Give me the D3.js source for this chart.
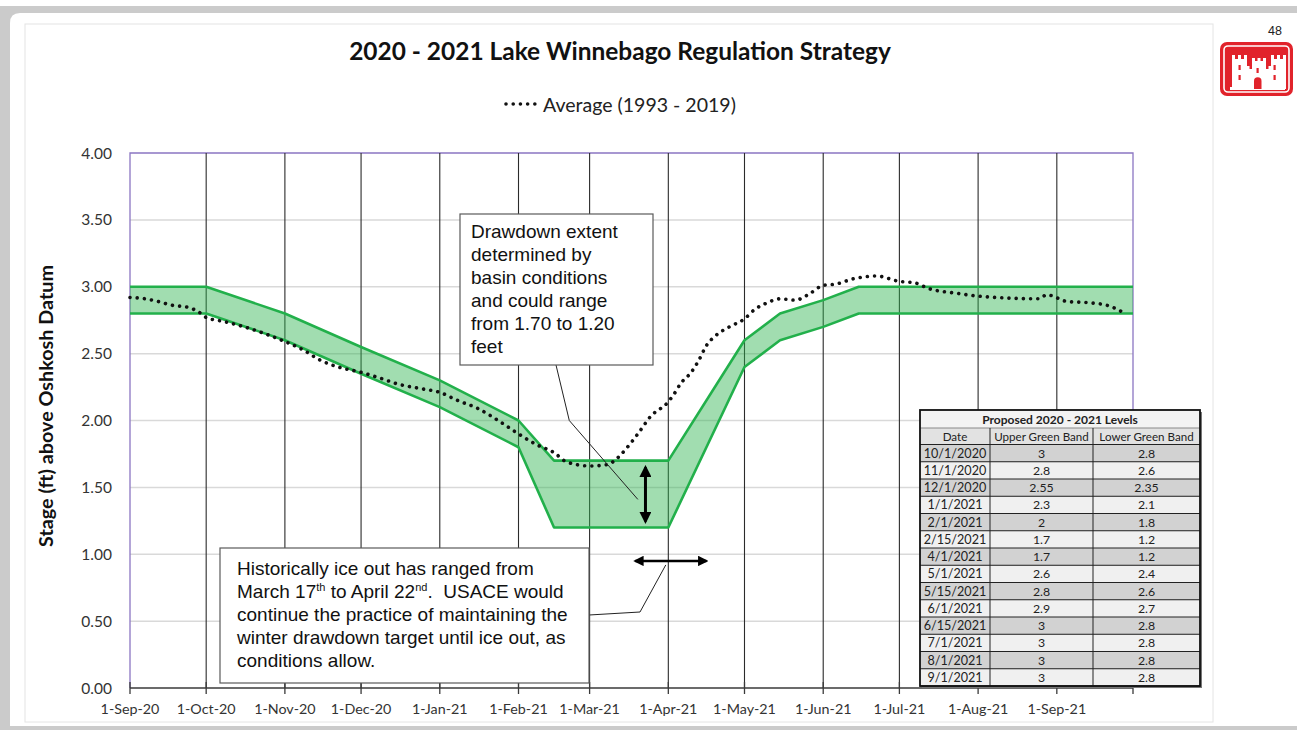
<!DOCTYPE html>
<html><head><meta charset="utf-8">
<script src="https://cdn.jsdelivr.net/npm/d3@7"></script>
<style>body{margin:0;background:#fff;overflow:hidden} svg{display:block}</style>
</head><body>
<svg id="c" width="1297" height="730"></svg>
<script>
// ---------------- DATA ----------------
const bandDates = ["2020-09-01","2020-10-01","2020-11-01","2020-12-01","2021-01-01","2021-02-01","2021-02-15","2021-04-01","2021-05-01","2021-05-15","2021-06-01","2021-06-15","2021-07-01","2021-08-01","2021-09-01","2021-10-01"];
const upperBand = [3, 3, 2.8, 2.55, 2.3, 2, 1.7, 1.7, 2.6, 2.8, 2.9, 3, 3, 3, 3, 3];
const lowerBand = [2.8, 2.8, 2.6, 2.35, 2.1, 1.8, 1.2, 1.2, 2.4, 2.6, 2.7, 2.8, 2.8, 2.8, 2.8, 2.8];

const avgDates = ["2020-09-01","2020-09-07","2020-09-12","2020-09-18","2020-09-23","2020-09-29","2020-10-01","2020-10-08","2020-10-16","2020-10-24","2020-11-01","2020-11-08","2020-11-15","2020-11-22","2020-12-01","2020-12-08","2020-12-16","2020-12-24","2021-01-01","2021-01-08","2021-01-16","2021-01-24","2021-02-01","2021-02-08","2021-02-15","2021-02-20","2021-03-01","2021-03-08","2021-03-12","2021-03-15","2021-03-20","2021-03-25","2021-04-01","2021-04-03","2021-04-06","2021-04-10","2021-04-13","2021-04-16","2021-04-20","2021-04-25","2021-05-01","2021-05-05","2021-05-10","2021-05-15","2021-05-21","2021-05-26","2021-06-01","2021-06-06","2021-06-13","2021-06-22","2021-07-01","2021-07-07","2021-07-12","2021-07-24","2021-08-01","2021-08-25","2021-08-28","2021-09-05","2021-09-14","2021-09-21","2021-09-27"];
const avgValues = [2.92,2.91,2.89,2.86,2.85,2.80,2.77,2.74,2.70,2.65,2.59,2.53,2.45,2.40,2.36,2.32,2.27,2.24,2.21,2.15,2.09,2.00,1.90,1.82,1.76,1.69,1.66,1.67,1.72,1.78,1.90,2.03,2.14,2.19,2.28,2.36,2.45,2.56,2.64,2.70,2.76,2.83,2.88,2.91,2.90,2.94,3.01,3.02,3.06,3.08,3.04,3.03,2.99,2.95,2.93,2.91,2.94,2.89,2.88,2.86,2.81];

const xTickDates = ["2020-09-01","2020-10-01","2020-11-01","2020-12-01","2021-01-01","2021-02-01","2021-03-01","2021-04-01","2021-05-01","2021-06-01","2021-07-01","2021-08-01","2021-09-01"];
const xDomain = ["2020-09-01","2021-10-01"];
const yTicks = [0, 0.5, 1, 1.5, 2, 2.5, 3, 3.5, 4];

const titleText = "2020 - 2021 Lake Winnebago Regulation Strategy";
const legendText = "Average (1993 - 2019)";
const yTitle = "Stage (ft) above Oshkosh Datum";
const tableTitle = "Proposed 2020 - 2021 Levels";
const tableHeaders = ["Date", "Upper Green Band", "Lower Green Band"];

// ---------------- SETUP ----------------
const parse = d3.utcParse("%Y-%m-%d");
const svg = d3.select("#c");
const W = 1297, H = 730;
const plot = {l:130, r:1133, t:153, b:688};
const x = d3.scaleUtc().domain(xDomain.map(parse)).range([plot.l, plot.r]);
const y = d3.scaleLinear().domain([0,4]).range([plot.b, plot.t]);
const cal = "Lato, 'Open Sans', sans-serif";
const arial = "'Liberation Sans', Arial, sans-serif";

function fit(sel, target){
  const w = sel.node().getComputedTextLength();
  const fs = parseFloat(sel.attr("font-size"));
  sel.attr("font-size", (fs*target/w).toFixed(2));
  return sel;
}

// page frame
svg.append("rect").attr("width",W).attr("height",H).attr("fill","#cbcbcb");
svg.append("rect").attr("width",W).attr("height",6).attr("fill","#ffffff");
svg.append("path").attr("fill","#ffffff")
  .attr("d", `M10,23 Q10,13 20,13 H${W} V726 H10 Z`);
svg.append("rect").attr("x",25).attr("y",24).attr("width",1188).attr("height",698)
  .attr("fill","#ffffff").attr("stroke","#e4e4e4").attr("stroke-width",1);

// slide number and logo
svg.append("text").attr("x",1282).attr("y",35).attr("text-anchor","end")
  .attr("font-family",arial).attr("font-size",12.5).attr("fill","#222").text("48");
const logo = svg.append("g");
logo.append("rect").attr("x",1220).attr("y",42).attr("width",73).attr("height",54).attr("rx",7).attr("fill","#e1232b");
logo.append("rect").attr("x",1224).attr("y",46).attr("width",65).attr("height",46).attr("rx",4)
  .attr("fill","none").attr("stroke","#fff").attr("stroke-width",1.6);
logo.append("path").attr("fill","#fff").attr("d",
  "M1232,89 V55 h3 v4 h3 v-4 h3 v4 h3 v-4 h3 V66 h2.5 v3 h2.5 V58 h3 v3 h2.5 v-3 h3 v3 h2.5 v-3 h3 V69 h2.5 v-3 h2.5 V55 h3 v4 h3 v-4 h3 v4 h3 v-4 h3 V89 Z");
logo.append("rect").attr("x",1230).attr("y",87).attr("width",55).attr("height",3).attr("fill","#fff");
logo.append("path").attr("fill","#e1232b").attr("d","M1254,89 V81 a3.75,3.75 0 0 1 7.5,0 V89 Z");
[[1238.5,65],[1238.5,75],[1273.5,65],[1273.5,75],[1256.5,68]].forEach(p=>{
  logo.append("rect").attr("x",p[0]).attr("y",p[1]).attr("width",2.2).attr("height",5).attr("fill","#e1232b");
});

// title
const tt = svg.append("text").attr("x",620).attr("y",60).attr("text-anchor","middle")
  .attr("font-family",cal).attr("font-weight","bold").attr("font-size",22).attr("fill","#111").text(titleText);
fit(tt, 542);

// legend
svg.append("line").attr("x1",506).attr("x2",538).attr("y1",104).attr("y2",104)
  .attr("stroke","#111").attr("stroke-width",3.6).attr("stroke-linecap","round").attr("stroke-dasharray","0.01 7.2");
const lt = svg.append("text").attr("x",543).attr("y",112)
  .attr("font-family",cal).attr("font-size",18).attr("fill","#222").text(legendText);
fit(lt, 193);

// y gridlines
svg.append("g").selectAll("line").data(yTicks.filter(v=>v>0 && v<4)).join("line")
  .attr("x1",plot.l).attr("x2",plot.r).attr("y1",d=>y(d)).attr("y2",d=>y(d))
  .attr("stroke","#d9d9d9").attr("stroke-width",1.5);

// y tick labels
svg.append("g").selectAll("text").data(yTicks).join("text")
  .attr("x",112).attr("y",d=>y(d)+5.5).attr("text-anchor","end")
  .attr("font-family",cal).attr("font-size",15.5).attr("fill","#333")
  .text(d=>d3.format(".2f")(d));

// y title
const yt = svg.append("text").attr("transform","translate(53,406) rotate(-90)").attr("text-anchor","middle")
  .attr("font-family",cal).attr("font-weight","bold").attr("font-size",17).attr("fill","#111").text(yTitle);
fit(yt, 282);

// plot border (purple)
svg.append("path").attr("fill","none").attr("stroke","#8b76c2").attr("stroke-width",1.3)
  .attr("d",`M${plot.l},${plot.b} V${plot.t} H${plot.r} V${plot.b}`);

// vertical month gridlines
const vDates = xTickDates.slice(1).map(parse);
svg.append("g").selectAll("line").data(vDates).join("line")
  .attr("x1",d=>x(d)).attr("x2",d=>x(d)).attr("y1",plot.t).attr("y2",plot.b)
  .attr("stroke","#2b2b2b").attr("stroke-width",1.1);

// band
const bandData = bandDates.map((d,i)=>({date:parse(d), hi:upperBand[i], lo:lowerBand[i]}));
svg.append("path").datum(bandData)
  .attr("d", d3.area().x(d=>x(d.date)).y0(d=>y(d.lo)).y1(d=>y(d.hi)))
  .attr("fill","#2eb34f").attr("fill-opacity",0.45);
["hi","lo"].forEach(k=>{
  svg.append("path").datum(bandData)
    .attr("d", d3.line().x(d=>x(d.date)).y(d=>y(d[k])))
    .attr("fill","none").attr("stroke","#22b04b").attr("stroke-width",2.6).attr("stroke-linejoin","round");
});

// average dotted line
const avgData = avgDates.map((d,i)=>({date:parse(d), v:avgValues[i]}));
svg.append("path").datum(avgData)
  .attr("d", d3.line().x(d=>x(d.date)).y(d=>y(d.v)).curve(d3.curveMonotoneX))
  .attr("fill","none").attr("stroke","#111").attr("stroke-width",3.6)
  .attr("stroke-linecap","round").attr("stroke-dasharray","0.01 7.2");

// x axis line + cross ticks
const xa = svg.append("g");
xa.append("line").attr("x1",plot.l).attr("x2",plot.r).attr("y1",plot.b).attr("y2",plot.b)
  .attr("stroke","#3a3a3a").attr("stroke-width",1.5);
xa.selectAll("line.tk").data(xTickDates.map(parse).concat([parse(xDomain[1])])).join("line").attr("class","tk")
  .attr("x1",d=>x(d)).attr("x2",d=>x(d)).attr("y1",plot.b-6).attr("y2",plot.b+6)
  .attr("stroke","#3a3a3a").attr("stroke-width",1.3);
const fmtTick = d3.utcFormat("%-d-%b-%y");
xa.selectAll("text").data(xTickDates.map(parse)).join("text")
  .attr("x",d=>x(d)).attr("y",714).attr("text-anchor","middle")
  .attr("font-family",cal).attr("font-size",14.3).attr("fill","#333").text(d=>fmtTick(d));

// ---------------- ANNOTATIONS ----------------
const defs = svg.append("defs");
defs.append("marker").attr("id","ah").attr("viewBox","0 0 10 10").attr("refX",8).attr("refY",5)
  .attr("markerWidth",4).attr("markerHeight",4).attr("orient","auto-start-reverse").attr("markerUnits","strokeWidth")
  .append("path").attr("d","M0,0 L10,5 L0,10 Z").attr("fill","#000");

// leader 1 and box 1
svg.append("polyline").attr("fill","none").attr("stroke","#222").attr("stroke-width",1)
  .attr("points",[[556,365],[x(parse("2021-02-21")),y(2.0)],[x(parse("2021-03-20")),y(1.41)]].map(p=>p.join(",")).join(" "));
svg.append("rect").attr("x",460).attr("y",214).attr("width",193).attr("height",151)
  .attr("fill","#fff").attr("stroke","#5a5a5a").attr("stroke-width",1.2);
const box1Lines = ["Drawdown extent","determined by","basin conditions","and could range","from 1.70 to 1.20","feet"];
svg.append("g").selectAll("text").data(box1Lines).join("text")
  .attr("x",471).attr("y",(d,i)=>238+i*23).attr("font-family",arial).attr("font-size",19).attr("fill","#111").text(d=>d);

// vertical double arrow
svg.append("line").attr("x1",x(parse("2021-03-23"))).attr("x2",x(parse("2021-03-23")))
  .attr("y1",y(1.65)).attr("y2",y(1.245))
  .attr("stroke","#000").attr("stroke-width",3)
  .attr("marker-start","url(#ah)").attr("marker-end","url(#ah)");

// horizontal double arrow
svg.append("line").attr("x1",x(parse("2021-03-19"))).attr("x2",x(parse("2021-04-16")))
  .attr("y1",y(0.95)).attr("y2",y(0.95))
  .attr("stroke","#000").attr("stroke-width",2.6)
  .attr("marker-start","url(#ah)").attr("marker-end","url(#ah)");

// leader 2 and box 2
svg.append("polyline").attr("fill","none").attr("stroke","#222").attr("stroke-width",1)
  .attr("points",[[589,615],[640,612],[x(parse("2021-03-31")),y(0.92)]].map(p=>p.join(",")).join(" "));
svg.append("rect").attr("x",220).attr("y",548).attr("width",369).attr("height",135)
  .attr("fill","#fff").attr("stroke","#5a5a5a").attr("stroke-width",1.2);
const b2 = svg.append("g").attr("font-family",arial).attr("font-size",19).attr("fill","#111");
b2.append("text").attr("x",237).attr("y",575).text("Historically ice out has ranged from");
const l2 = b2.append("text").attr("x",237).attr("y",598);
l2.append("tspan").text("March 17");
l2.append("tspan").attr("dy",-7).attr("font-size",11).text("th");
l2.append("tspan").attr("dy",7).text(" to April 22");
l2.append("tspan").attr("dy",-7).attr("font-size",11).text("nd");
l2.append("tspan").attr("dy",7).text(".\u00A0 USACE would");
b2.append("text").attr("x",237).attr("y",621).text("continue the practice of maintaining the");
b2.append("text").attr("x",237).attr("y",644).text("winter drawdown target until ice out, as");
b2.append("text").attr("x",237).attr("y",667).text("conditions allow.");

// ---------------- TABLE ----------------
const fmtDate = d => `${d.getUTCMonth()+1}/${d.getUTCDate()}/${d.getUTCFullYear()}`;
const rows = bandData.slice(1, bandData.length-1);
const T = {x:920, y:410, cols:[920, 990, 1093, 1200], titleH:18, headH:16.5, rowH:17.25};
const tg = svg.append("g").attr("font-family",cal).attr("fill","#222");
const tH = T.titleH + T.headH + rows.length*T.rowH;
// shadow
tg.append("rect").attr("x",T.x+2).attr("y",T.y+2).attr("width",T.cols[3]-T.x).attr("height",tH).attr("fill","#777");
tg.append("rect").attr("x",T.x).attr("y",T.y).attr("width",T.cols[3]-T.x).attr("height",T.titleH).attr("fill","#f3f3f3");
tg.append("rect").attr("x",T.x).attr("y",T.y+T.titleH).attr("width",T.cols[3]-T.x).attr("height",T.headH).attr("fill","#e2e2e2");
tg.selectAll("rect.row").data(rows).join("rect").attr("class","row")
  .attr("x",T.x).attr("y",(d,i)=>T.y+T.titleH+T.headH+i*T.rowH)
  .attr("width",T.cols[3]-T.x).attr("height",T.rowH)
  .attr("fill",(d,i)=>i%2===0?"#d2d2d2":"#f0f0f0");
// lines
const tl = tg.append("g").attr("stroke","#222").attr("stroke-width",1);
for(let i=0;i<=rows.length;i++){
  const yy = T.y+T.titleH+T.headH+i*T.rowH;
  tl.append("line").attr("x1",T.x).attr("x2",T.cols[3]).attr("y1",yy).attr("y2",yy);
}
tl.append("line").attr("x1",T.x).attr("x2",T.cols[3]).attr("y1",T.y+T.titleH).attr("y2",T.y+T.titleH).attr("stroke","#888");
[1,2].forEach(c=>tl.append("line").attr("x1",T.cols[c]).attr("x2",T.cols[c]).attr("y1",T.y+T.titleH).attr("y2",T.y+tH));
tg.append("rect").attr("x",T.x).attr("y",T.y).attr("width",T.cols[3]-T.x).attr("height",tH)
  .attr("fill","none").attr("stroke","#111").attr("stroke-width",1.8);
// texts
const ttl = tg.append("text").attr("x",(T.x+T.cols[3])/2).attr("y",T.y+13.5).attr("text-anchor","middle")
  .attr("font-weight","bold").attr("font-size",12).text(tableTitle);
fit(ttl, 156);
const colC = [0,1,2].map(c=>(T.cols[c]+T.cols[c+1])/2);
tg.selectAll("text.hd").data(tableHeaders).join("text").attr("class","hd")
  .attr("x",(d,i)=>colC[i]).attr("y",T.y+T.titleH+12.5).attr("text-anchor","middle")
  .attr("font-size",11.6).text(d=>d);
rows.forEach((r,i)=>{
  const yy = T.y+T.titleH+T.headH+i*T.rowH+13;
  [fmtDate(r.date), String(r.hi), String(r.lo)].forEach((s,c)=>{
    tg.append("text").attr("x",colC[c]).attr("y",yy).attr("text-anchor","middle")
      .attr("font-size",c===0?12.6:12.3).text(s);
  });
});
</script>
</body></html>
